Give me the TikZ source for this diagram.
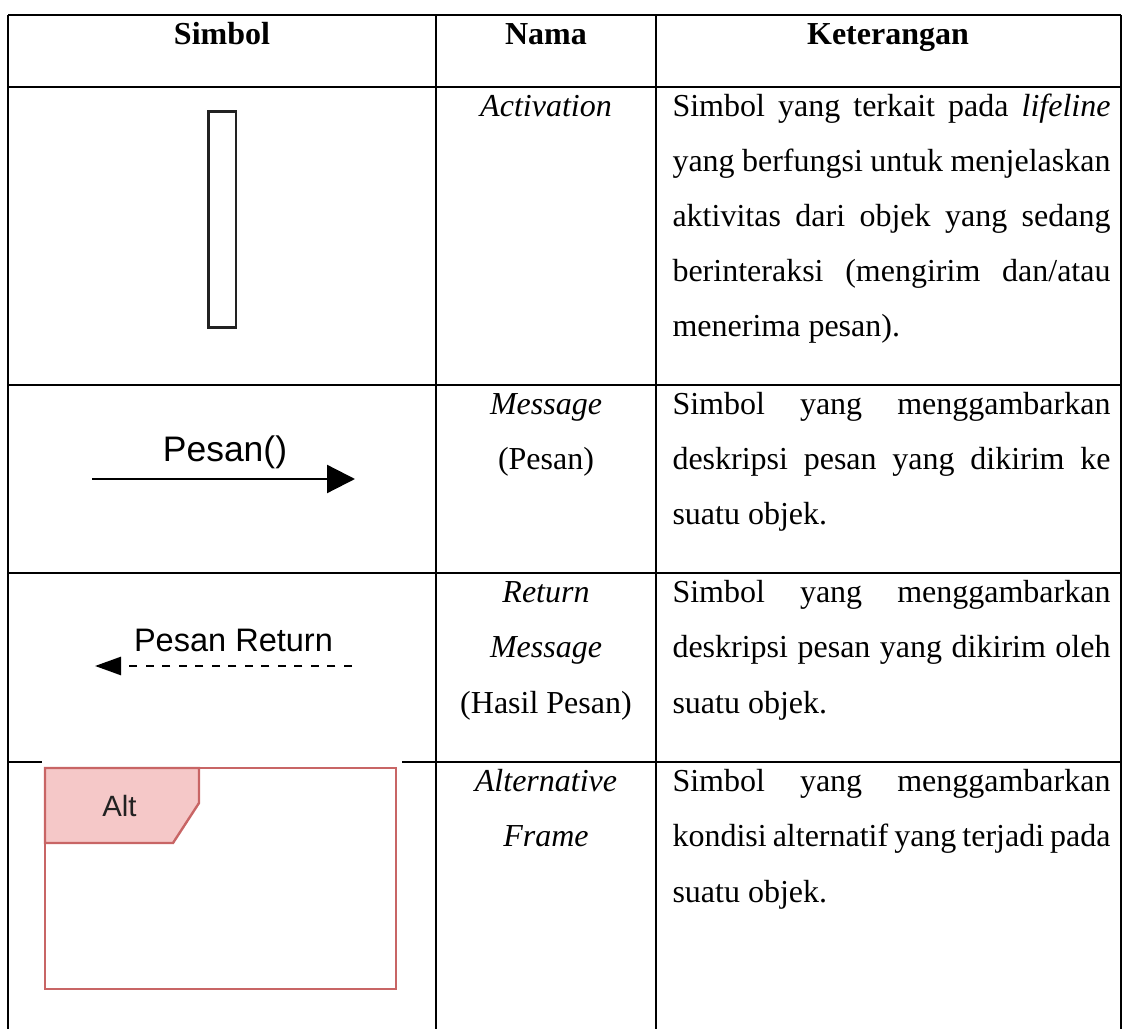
\documentclass[tikz,border=0pt]{standalone}
\usepackage{fontspec}
\setmainfont{Liberation Serif}
\newfontfamily\symfont{Liberation Sans}
\usetikzlibrary{arrows.meta}

\newcommand\bodysize{\fontsize{12pt}{14pt}\selectfont}
\newcommand\jline[1]{\makebox[164.25pt][s]{#1}}

\definecolor{frameline}{HTML}{C86565}
\definecolor{framefill}{HTML}{F5C8C8}
\definecolor{actline}{HTML}{222222}

\begin{document}
\begin{tikzpicture}[x=0.375pt,y=-0.375pt,
  grid/.style={line width=0.75pt, black},
  hdr/.style={anchor=base, inner sep=0pt, font=\bodysize\bfseries},
  nama/.style={anchor=base, inner sep=0pt, font=\bodysize\itshape},
  namaup/.style={anchor=base, inner sep=0pt, font=\bodysize},
  ket/.style={anchor=base west, inner sep=0pt, font=\bodysize},
  symlabel/.style={anchor=base, inner sep=0pt},
  msgline/.style={line width=0.85pt, black},
]
\useasboundingbox (0,0) rectangle (1125,1029);

% table rules
\draw[grid] (8,15) -- (1121,15);
\draw[grid] (8,87) -- (1121,87);
\draw[grid] (8,385) -- (1121,385);
\draw[grid] (8,573) -- (1121,573);
\draw[grid] (8,762) -- (42,762);
\draw[grid] (402,762) -- (1121,762);
\foreach \cx in {8,436,656,1121}
  \draw[grid] (\cx,15) -- (\cx,1029);

% header
\node[hdr] (h1) at (222,45) {Simbol};
\node[hdr] (h2) at (546,45) {Nama};
\node[hdr] (h3) at (888,45) {Keterangan};

% row 1: activation
\draw[line width=1.05pt, actline] (208.5,111.5) rectangle (236,327.5);
\node[nama] (n1) at (546,117) {Activation};
\node[ket] (k1a) at (672,117) {\jline{Simbol yang terkait pada \textit{lifeline}}};
\node[ket] (k1b) at (672,172) {\jline{yang berfungsi untuk menjelaskan}};
\node[ket] (k1c) at (672,227) {\jline{aktivitas dari objek yang sedang}};
\node[ket] (k1d) at (672,282) {\jline{berinteraksi (mengirim dan/atau}};
\node[ket] (k1e) at (672,337) {menerima pesan).};

% row 2: message
\coordinate (msgA) at (92,479);
\coordinate (msgB) at (355,479);
\draw[msgline, -{Triangle[length=10.5pt,width=10.5pt]}] (msgA) -- (msgB);
\node[symlabel, font=\symfont\fontsize{13.3pt}{15pt}\selectfont] (lbl2) at (225,462) {Pesan()};
\node[nama] (n2a) at (546,415) {Message};
\node[namaup] (n2b) at (546,470) {(Pesan)};
\node[ket] (k2a) at (672,415) {\jline{Simbol yang menggambarkan}};
\node[ket] (k2b) at (672,470) {\jline{deskripsi pesan yang dikirim ke}};
\node[ket] (k2c) at (672,525) {suatu objek.};

% row 3: return message
\coordinate (retA) at (352,666);
\coordinate (retB) at (95,666);
\draw[msgline, line width=1pt, dash pattern=on 3pt off 3.2pt, -{Triangle[length=9.75pt,width=6.75pt]}] (retA) -- (retB);
\node[symlabel, font=\symfont\fontsize{12.2pt}{14pt}\selectfont] (lbl3) at (233.5,652) {Pesan Return};
\node[nama] (n3a) at (546,603) {Return};
\node[nama] (n3b) at (546,658) {Message};
\node[namaup] (n3c) at (546,713) {(Hasil Pesan)};
\node[ket] (k3a) at (672,603) {\jline{Simbol yang menggambarkan}};
\node[ket] (k3b) at (672,658) {\jline{deskripsi pesan yang dikirim oleh}};
\node[ket] (k3c) at (672,713) {suatu objek.};

% row 4: alternative frame
\draw[line width=0.9pt, frameline] (45,768) rectangle (396,989);
\draw[line width=0.9pt, frameline, fill=framefill]
  (45,768) -- (199,768) -- (199,803) -- (173,843) -- (45,843) -- cycle;
\node[symlabel, font=\symfont\fontsize{11pt}{13pt}\selectfont, text=actline] (lbl4) at (119.5,817) {Alt};
\node[nama] (n4a) at (546,792) {Alternative};
\node[nama] (n4b) at (546,847) {Frame};
\node[ket] (k4a) at (672,792) {\jline{Simbol yang menggambarkan}};
\node[ket] (k4b) at (672,847) {\jline{kondisi alternatif yang terjadi pada}};
\node[ket] (k4c) at (672,902) {suatu objek.};
\end{tikzpicture}
\end{document}
